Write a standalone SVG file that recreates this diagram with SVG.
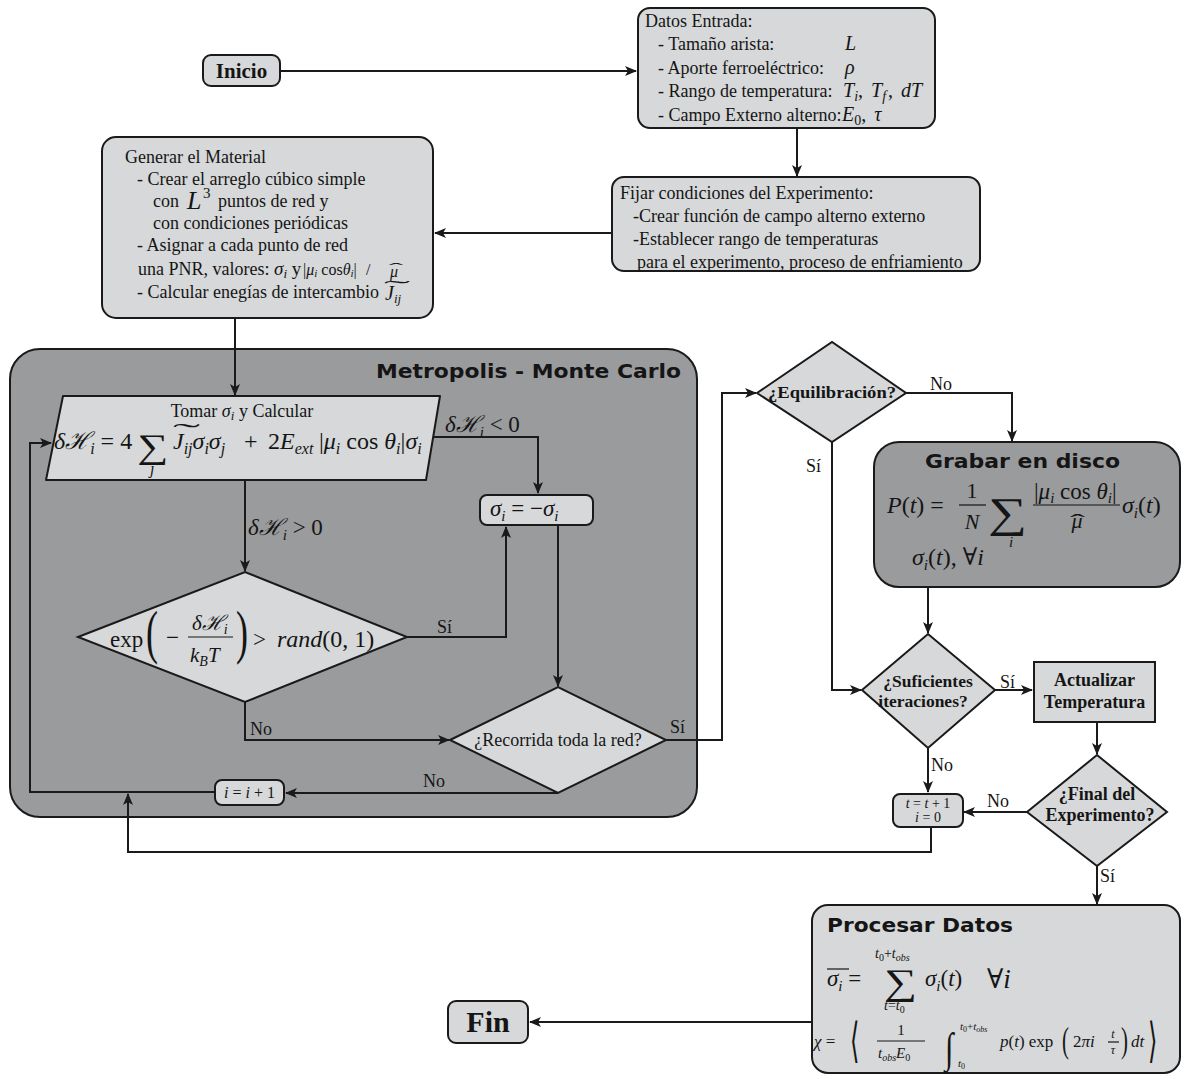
<svg xmlns="http://www.w3.org/2000/svg" width="1184" height="1077" viewBox="0 0 1184 1077">
  <defs>
    <style>
      text { font-family: "Liberation Serif", "DejaVu Serif", serif; fill: #151515; }
      .m { font-style: italic; }
      .b { font-weight: bold; }
      .h { font-family: "DejaVu Sans", "Liberation Sans", sans-serif; font-weight: bold; }
      .box { fill: #d6d8d9; stroke: #1a1a1a; stroke-width: 2; }
      .dark { fill: #9a9b9d; stroke: #1a1a1a; stroke-width: 2; }
      .ln { fill: none; stroke: #1a1a1a; stroke-width: 2; }
      .bar { stroke: #151515; stroke-width: 1.2; }
    </style>
    <marker id="ah" viewBox="0 0 12 10" refX="11" refY="5" markerWidth="12" markerHeight="10" markerUnits="userSpaceOnUse" orient="auto">
      <path d="M0,0 L12,5 L0,10 L3,5 z" fill="#1a1a1a"/>
    </marker>
  </defs>
  <rect width="1184" height="1077" fill="#ffffff"/>

  <!-- Monte Carlo container -->
  <g id="metropolis">
    <rect class="dark" x="10" y="349" width="687" height="468" rx="30"/>
    <text class="h" x="376" y="378" font-size="20" textLength="305" lengthAdjust="spacingAndGlyphs">Metropolis - Monte Carlo</text>
  </g>

  <!-- connectors -->
  <g id="connectors" class="ln">
    <path d="M280,71 H636" marker-end="url(#ah)"/>
    <path d="M797,128 V176" marker-end="url(#ah)"/>
    <path d="M612,233 H435" marker-end="url(#ah)"/>
    <path d="M235,318 V395" marker-end="url(#ah)"/>
    <path d="M433,437 H538 V493" marker-end="url(#ah)"/>
    <path d="M245,480 V571" marker-end="url(#ah)"/>
    <path d="M407,637 H506 V527" marker-end="url(#ah)"/>
    <path d="M558,525 V686" marker-end="url(#ah)"/>
    <path d="M245,702 V740 H449" marker-end="url(#ah)"/>
    <path d="M558,793 H286" marker-end="url(#ah)"/>
    <path d="M215,792 H30 V443 H51" marker-end="url(#ah)"/>
    <path d="M666,740 H722 V393 H756" marker-end="url(#ah)"/>
    <path d="M906,393 H1012 V441" marker-end="url(#ah)"/>
    <path d="M832,442 V690 H861" marker-end="url(#ah)"/>
    <path d="M928,587 V633" marker-end="url(#ah)"/>
    <path d="M995,690 H1032" marker-end="url(#ah)"/>
    <path d="M1097,722 V754" marker-end="url(#ah)"/>
    <path d="M928,748 V792" marker-end="url(#ah)"/>
    <path d="M1027,812 H964" marker-end="url(#ah)"/>
    <path d="M931,827 V852 H128 V794" marker-end="url(#ah)"/>
    <path d="M1097,866 V904" marker-end="url(#ah)"/>
    <path d="M812,1022 H530" marker-end="url(#ah)"/>
  </g>

  <!-- connector labels -->
  <g id="labels" font-size="18">
    <text x="445" y="432" font-size="23"><tspan class="m">δℋ</tspan><tspan class="m" font-size="15" dy="5">i</tspan><tspan dy="-5"> &lt; 0</tspan></text>
    <text x="248" y="535" font-size="23"><tspan class="m">δℋ</tspan><tspan class="m" font-size="15" dy="5">i</tspan><tspan dy="-5"> &gt; 0</tspan></text>
    <text x="437" y="633">Sí</text>
    <text x="250" y="735">No</text>
    <text x="670" y="733">Sí</text>
    <text x="423" y="787">No</text>
    <text x="930" y="390">No</text>
    <text x="806" y="472">Sí</text>
    <text x="1000" y="688">Sí</text>
    <text x="931" y="771">No</text>
    <text x="987" y="807">No</text>
    <text x="1100" y="882">Sí</text>
  </g>

  <g id="inicio">
    <rect class="box" x="203" y="55" width="77" height="31" rx="8"/>
    <text class="b" x="241.5" y="78" font-size="21" text-anchor="middle">Inicio</text>
  </g>

  <g id="datos-entrada" font-size="18">
    <rect class="box" x="638" y="8" width="297" height="120" rx="12"/>
    <text x="645" y="27">Datos Entrada:</text>
    <text x="658" y="50">- Tamaño arista:</text>
    <text x="658" y="74">- Aporte ferroeléctrico:</text>
    <text x="658" y="97">- Rango de temperatura:</text>
    <text x="658" y="121">- Campo Externo alterno:</text>
    <text class="m" x="845" y="50" font-size="20">L</text>
    <text class="m" x="845" y="74" font-size="20">ρ</text>
    <text x="843" y="97" font-size="20"><tspan class="m">T</tspan><tspan class="m" font-size="14" dy="4">i</tspan><tspan dy="-4">, </tspan><tspan class="m" dx="3">T</tspan><tspan class="m" font-size="14" dy="4">f</tspan><tspan dy="-4" dx="2">, </tspan><tspan class="m" dx="3">dT</tspan></text>
    <text x="842" y="121" font-size="20"><tspan class="m">E</tspan><tspan font-size="14" dy="4">0</tspan><tspan dy="-4">, </tspan><tspan class="m" dx="3">τ</tspan></text>
  </g>

  <g id="fijar-condiciones" font-size="18">
    <rect class="box" x="612" y="177" width="368" height="94" rx="12"/>
    <text x="620" y="199">Fijar condiciones del Experimento:</text>
    <text x="633" y="222">-Crear función de campo alterno externo</text>
    <text x="633" y="245">-Establecer rango de temperaturas</text>
    <text x="637" y="268">para el experimento, proceso de enfriamiento</text>
  </g>

  <g id="generar-material" font-size="18">
    <rect class="box" x="102" y="137" width="331" height="181" rx="14"/>
    <text x="125" y="163">Generar el Material</text>
    <text x="137" y="185">- Crear el arreglo cúbico simple</text>
    <text x="153" y="207">con</text>
    <text class="m" x="187" y="209" font-size="26">L</text>
    <text x="203" y="198" font-size="15">3</text>
    <text x="218" y="207">puntos de red y</text>
    <text x="153" y="229">con condiciones periódicas</text>
    <text x="137" y="251">- Asignar a cada punto de red</text>
    <text x="138" y="275">una PNR, valores:</text>
    <text x="274" y="275" font-size="19"><tspan class="m">σ</tspan><tspan class="m" font-size="13" dy="3">i</tspan><tspan dy="-3"> y</tspan></text>
    <text x="303" y="275" font-size="16"><tspan>|</tspan><tspan class="m">μ</tspan><tspan class="m" font-size="11" dy="2">i</tspan><tspan dy="-2"> cos</tspan><tspan class="m">θ</tspan><tspan class="m" font-size="11" dy="2">i</tspan><tspan dy="-2">|</tspan></text>
    <text x="366" y="275" font-size="16">/</text>
    <text class="m" x="390" y="277" font-size="16">μ</text>
    <text x="389" y="273" font-size="15" textLength="14" lengthAdjust="spacingAndGlyphs">ˆ</text>
    <text x="137" y="298">- Calcular enegías de intercambio</text>
    <text x="385" y="300" font-size="20"><tspan class="m">J</tspan><tspan class="m" font-size="13" dy="3">ij</tspan></text>
    <text x="384" y="294" font-size="18" textLength="26" lengthAdjust="spacingAndGlyphs">˜</text>
  </g>

  <g id="calcular-energia">
    <path class="box" d="M63,396 L440,396 L426,480 L46,480 Z" stroke-linejoin="round"/>
    <text x="242" y="417" font-size="18" text-anchor="middle">Tomar <tspan class="m">σ</tspan><tspan class="m" font-size="13" dy="3">i</tspan><tspan dy="-3"> y Calcular</tspan></text>
    <text x="54" y="449" font-size="24"><tspan class="m">δℋ</tspan><tspan class="m" font-size="16" dy="5">i</tspan><tspan dy="-5"> = 4</tspan></text>
    <text x="137" y="458" font-size="34" textLength="31" lengthAdjust="spacingAndGlyphs">∑</text>
    <text class="m" x="150" y="474" font-size="16">j</text>
    <text x="173" y="440" font-size="24" textLength="27" lengthAdjust="spacingAndGlyphs">˜</text>
    <text x="173" y="449" font-size="24"><tspan class="m">J</tspan><tspan class="m" font-size="16" dy="5">ij</tspan><tspan class="m" dy="-5">σ</tspan><tspan class="m" font-size="16" dy="5">i</tspan><tspan class="m" dy="-5">σ</tspan><tspan class="m" font-size="16" dy="5">j</tspan></text>
    <text x="244" y="449" font-size="24">+</text>
    <text x="268" y="449" font-size="24">2<tspan class="m">E</tspan><tspan class="m" font-size="16" dy="5">ext</tspan></text>
    <text x="319" y="449" font-size="24"><tspan>|</tspan><tspan class="m">μ</tspan><tspan class="m" font-size="16" dy="5">i</tspan><tspan dy="-5"> cos </tspan><tspan class="m">θ</tspan><tspan class="m" font-size="16" dy="5">i</tspan><tspan dy="-5">|</tspan><tspan class="m">σ</tspan><tspan class="m" font-size="16" dy="5">i</tspan></text>
  </g>

  <g id="flip-spin">
    <rect class="box" x="480" y="495" width="113" height="30" rx="7"/>
    <text x="490" y="516" font-size="23"><tspan class="m">σ</tspan><tspan class="m" font-size="15" dy="5">i</tspan><tspan dy="-5"> = −</tspan><tspan class="m">σ</tspan><tspan class="m" font-size="15" dy="5">i</tspan></text>
  </g>

  <g id="metropolis-test">
    <path class="box" d="M78,637 L245,572 L407,637 L245,702 Z"/>
    <text x="110" y="647" font-size="23">exp</text>
    <text transform="translate(146,652) scale(0.9,1.5)" font-size="40">(</text>
    <text x="166" y="645" font-size="23">−</text>
    <text x="192" y="630" font-size="21"><tspan class="m">δℋ</tspan><tspan class="m" font-size="14" dy="4">i</tspan></text>
    <line class="bar" x1="188" y1="637" x2="233" y2="637"/>
    <text x="190" y="662" font-size="21"><tspan class="m">k</tspan><tspan class="m" font-size="14" dy="4">B</tspan><tspan class="m" dy="-4">T</tspan></text>
    <text transform="translate(236,652) scale(0.9,1.5)" font-size="40">)</text>
    <text x="253" y="647" font-size="23">&gt;</text>
    <text x="277" y="647" font-size="24"><tspan class="m">rand</tspan>(0, 1)</text>
  </g>

  <g id="recorrida-red">
    <path class="box" d="M450,740 L558,687 L666,740 L558,793 Z"/>
    <text x="558" y="746" font-size="18" text-anchor="middle">¿Recorrida toda la red?</text>
  </g>

  <g id="incremento-i">
    <rect class="box" x="215" y="780" width="69" height="25" rx="7"/>
    <text x="249.5" y="798" font-size="16" text-anchor="middle"><tspan class="m">i</tspan> = <tspan class="m">i</tspan> + 1</text>
  </g>

  <g id="equilibracion">
    <path class="box" d="M757,393 L832,342 L906,393 L832,442 Z"/>
    <text class="b" x="832" y="398" font-size="17" text-anchor="middle" textLength="128" lengthAdjust="spacingAndGlyphs">¿Equilibración?</text>
  </g>

  <g id="grabar-disco">
    <rect class="dark" x="874" y="442" width="306" height="145" rx="25"/>
    <text class="h" x="925" y="468" font-size="20" textLength="195" lengthAdjust="spacingAndGlyphs">Grabar en disco</text>
    <text x="887" y="513" font-size="24"><tspan class="m">P</tspan>(<tspan class="m">t</tspan>) =</text>
    <text x="972" y="498" font-size="22" text-anchor="middle">1</text>
    <line class="bar" x1="959" y1="505" x2="986" y2="505"/>
    <text class="m" x="972" y="529" font-size="22" text-anchor="middle">N</text>
    <text x="988" y="527" font-size="42" textLength="39" lengthAdjust="spacingAndGlyphs">∑</text>
    <text class="m" x="1009" y="547" font-size="15">i</text>
    <text x="1034" y="499" font-size="23"><tspan>|</tspan><tspan class="m">μ</tspan><tspan class="m" font-size="15" dy="4">i</tspan><tspan dy="-4"> cos </tspan><tspan class="m">θ</tspan><tspan class="m" font-size="15" dy="4">i</tspan><tspan dy="-4">|</tspan></text>
    <line class="bar" x1="1033" y1="505" x2="1120" y2="505"/>
    <text class="m" x="1077" y="528" font-size="22" text-anchor="middle">μ</text>
    <text x="1070" y="527" font-size="18" textLength="15" lengthAdjust="spacingAndGlyphs">ˆ</text>
    <text x="1122" y="513" font-size="24"><tspan class="m">σ</tspan><tspan class="m" font-size="15" dy="5">i</tspan><tspan dy="-5">(</tspan><tspan class="m">t</tspan>)</text>
    <text x="912" y="565" font-size="24"><tspan class="m">σ</tspan><tspan class="m" font-size="15" dy="5">i</tspan><tspan dy="-5">(</tspan><tspan class="m">t</tspan>),  ∀<tspan class="m">i</tspan></text>
  </g>

  <g id="suficientes-iteraciones">
    <path class="box" d="M862,690 L928,634 L995,690 L928,748 Z"/>
    <text class="b" x="928" y="687" font-size="17.5" text-anchor="middle">¿Suficientes</text>
    <text class="b" x="923" y="707" font-size="17.5" text-anchor="middle">iteraciones?</text>
  </g>

  <g id="actualizar-temperatura">
    <rect class="box" x="1034" y="662" width="121" height="60"/>
    <text class="b" x="1094.5" y="686" font-size="18" text-anchor="middle">Actualizar</text>
    <text class="b" x="1094.5" y="708" font-size="18" text-anchor="middle">Temperatura</text>
  </g>

  <g id="final-experimento">
    <path class="box" d="M1027,812 L1097,755 L1167,812 L1097,866 Z"/>
    <text class="b" x="1097" y="800" font-size="18" text-anchor="middle">¿Final del</text>
    <text class="b" x="1100" y="821" font-size="18" text-anchor="middle">Experimento?</text>
  </g>

  <g id="incremento-t">
    <rect class="box" x="893" y="794" width="70" height="33" rx="7"/>
    <text x="928" y="808" font-size="14" text-anchor="middle"><tspan class="m">t</tspan> = <tspan class="m">t</tspan> + 1</text>
    <text x="928" y="822" font-size="14" text-anchor="middle"><tspan class="m">i</tspan> = 0</text>
  </g>

  <g id="procesar-datos">
    <rect class="box" x="812" y="905" width="368" height="168" rx="16"/>
    <text class="h" x="827" y="932" font-size="20" textLength="186" lengthAdjust="spacingAndGlyphs">Procesar Datos</text>
    <line class="bar" x1="827" y1="969" x2="849" y2="969"/>
    <text x="827" y="986" font-size="23"><tspan class="m">σ</tspan><tspan class="m" font-size="15" dy="5">i</tspan><tspan dy="-5"> =</tspan></text>
    <text x="875" y="958" font-size="14"><tspan class="m">t</tspan><tspan font-size="10" dy="3">0</tspan><tspan dy="-3">+</tspan><tspan class="m">t</tspan><tspan class="m" font-size="10" dy="3">obs</tspan></text>
    <text x="884" y="994" font-size="36" textLength="33" lengthAdjust="spacingAndGlyphs">∑</text>
    <text x="884" y="1010" font-size="14"><tspan class="m">t</tspan>=<tspan class="m">t</tspan><tspan font-size="10" dy="3">0</tspan></text>
    <text x="925" y="986" font-size="23"><tspan class="m">σ</tspan><tspan class="m" font-size="15" dy="5">i</tspan><tspan dy="-5">(</tspan><tspan class="m">t</tspan>)</text>
    <text x="987" y="988" font-size="27">∀<tspan class="m">i</tspan></text>
    <text x="814" y="1047" font-size="17"><tspan class="m">χ</tspan> =</text>
    <text transform="translate(850,1057) scale(0.8,1.6)" font-size="30">⟨</text>
    <text x="901" y="1035" font-size="15" text-anchor="middle">1</text>
    <line class="bar" x1="877" y1="1041" x2="925" y2="1041"/>
    <text x="878" y="1058" font-size="15"><tspan class="m">t</tspan><tspan class="m" font-size="10" dy="3">obs</tspan><tspan class="m" dy="-3">E</tspan><tspan font-size="10" dy="3">0</tspan></text>
    <text class="m" transform="translate(945,1062) scale(1.1,1.5)" font-size="28">∫</text>
    <text x="960" y="1030" font-size="11"><tspan class="m">t</tspan><tspan font-size="8" dy="2">0</tspan><tspan dy="-2">+</tspan><tspan class="m">t</tspan><tspan class="m" font-size="8" dy="2">obs</tspan></text>
    <text x="958" y="1067" font-size="11"><tspan class="m">t</tspan><tspan font-size="8" dy="2">0</tspan></text>
    <text x="1000" y="1047" font-size="17"><tspan class="m">p</tspan>(<tspan class="m">t</tspan>) exp</text>
    <text transform="translate(1062,1052) scale(0.8,1.35)" font-size="26">(</text>
    <text x="1073" y="1047" font-size="17">2<tspan class="m">πi</tspan></text>
    <text class="m" x="1113" y="1038" font-size="12" text-anchor="middle">t</text>
    <line class="bar" x1="1108" y1="1042" x2="1119" y2="1042"/>
    <text class="m" x="1113" y="1054" font-size="12" text-anchor="middle">τ</text>
    <text transform="translate(1121,1052) scale(0.8,1.35)" font-size="26">)</text>
    <text class="m" x="1131" y="1047" font-size="17">dt</text>
    <text transform="translate(1148,1057) scale(0.8,1.6)" font-size="30">⟩</text>
  </g>

  <g id="fin">
    <rect class="box" x="448" y="1001" width="80" height="42" rx="8"/>
    <text class="b" x="488" y="1032" font-size="30" text-anchor="middle">Fin</text>
  </g>
</svg>
